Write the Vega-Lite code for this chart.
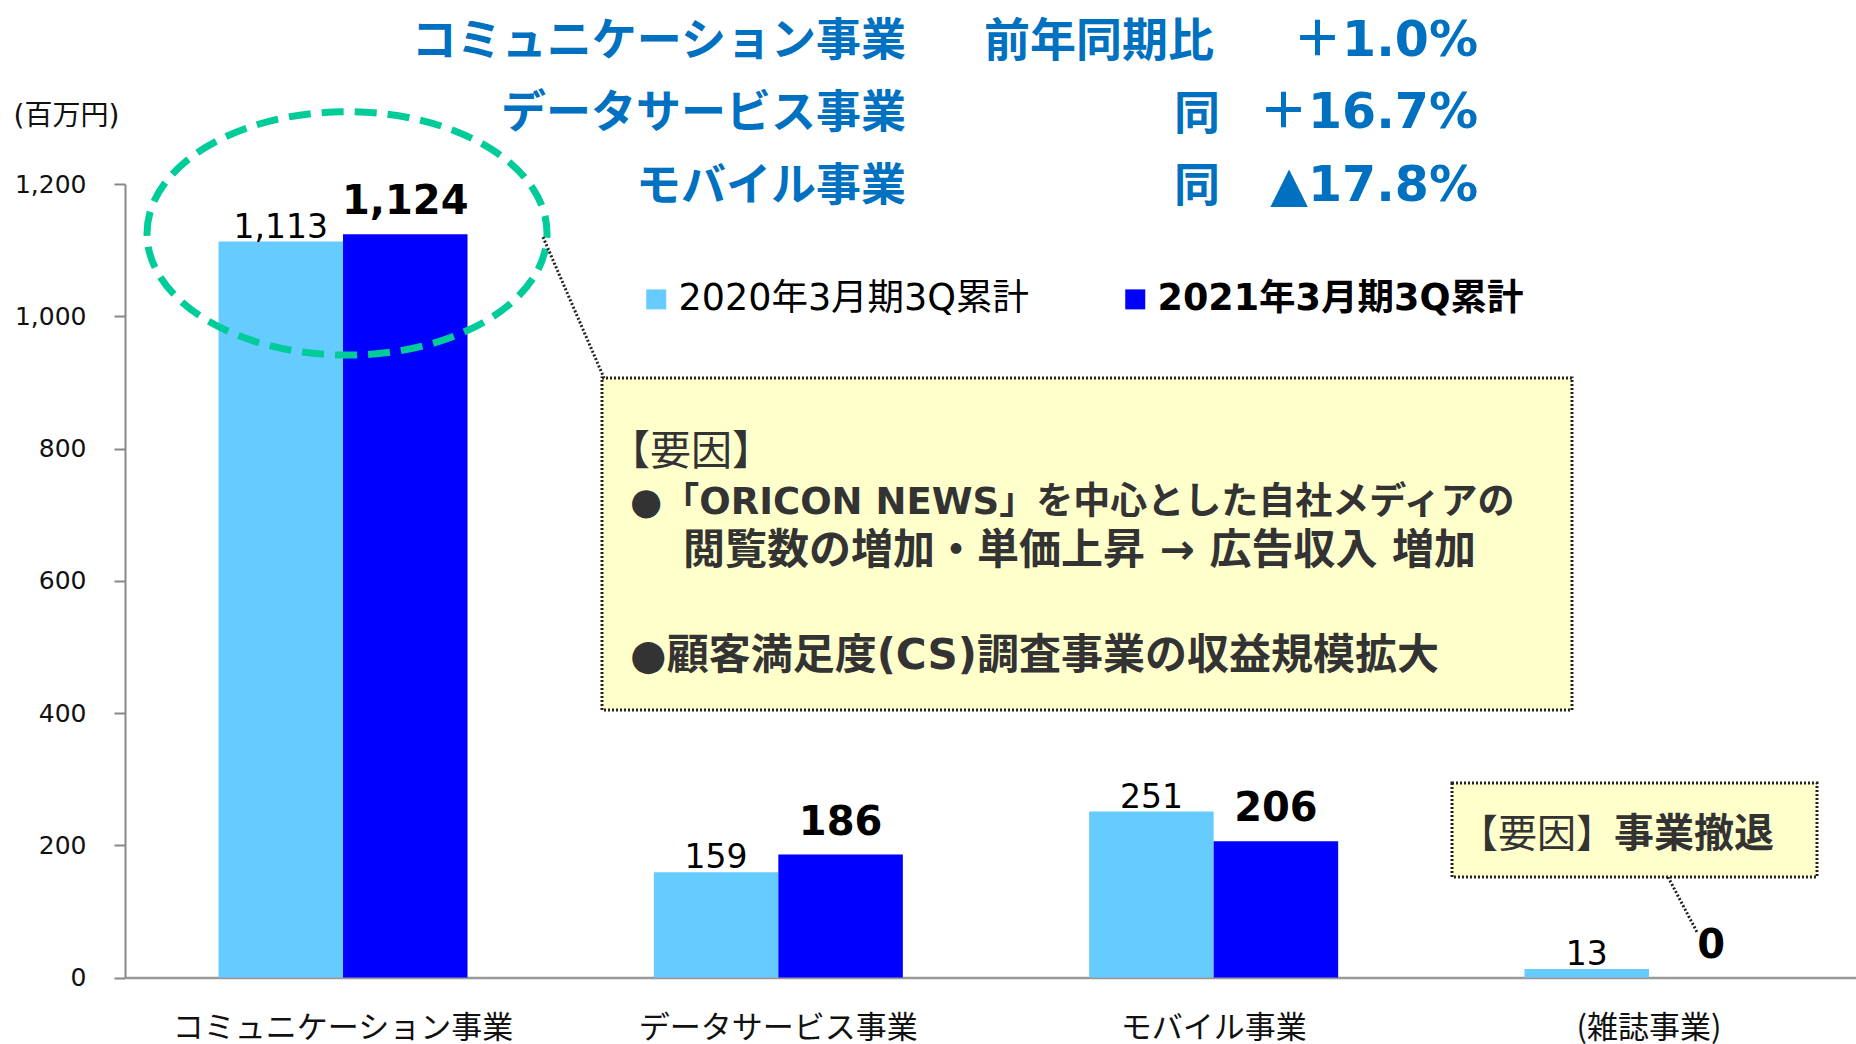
{
  "$schema": "https://vega.github.io/schema/vega-lite/v6.json",
  "width": 1731,
  "height": 793.5,
  "autosize": {"type": "none"},
  "padding": {"left": 125, "top": 184, "right": 0, "bottom": 66.5},
  "background": "#ffffff",
  "config": {"view": {"stroke": null}, "font": "DejaVu Sans", "axisY": {"format": ","}},
  "datasets": {
    "sales": [
      {"segment": "コミュニケーション事業", "period": "2020年3月期3Q累計", "value": 1113},
      {"segment": "コミュニケーション事業", "period": "2021年3月期3Q累計", "value": 1124},
      {"segment": "データサービス事業", "period": "2020年3月期3Q累計", "value": 159},
      {"segment": "データサービス事業", "period": "2021年3月期3Q累計", "value": 186},
      {"segment": "モバイル事業", "period": "2020年3月期3Q累計", "value": 251},
      {"segment": "モバイル事業", "period": "2021年3月期3Q累計", "value": 206},
      {"segment": "(雑誌事業)", "period": "2020年3月期3Q累計", "value": 13},
      {"segment": "(雑誌事業)", "period": "2021年3月期3Q累計", "value": 0}
    ]
  },
  "layer": [
    {
      "data": {"name": "sales"},
      "encoding": {
        "x": {
          "field": "segment", "type": "nominal", "sort": null,
          "scale": {"range": [0, 1742], "paddingInner": 0.428, "paddingOuter": 0.2148},
          "axis": {
            "title": null, "labelAngle": 0, "labelFont": "Noto Sans CJK JP", "labelFontSize": 31,
            "labelColor": "#111111", "labelPadding": 36, "ticks": false, "tickSize": 0,
            "domainColor": "#999999", "domainWidth": 2.5, "labelLimit": 0
          }
        },
        "xOffset": {"field": "period", "type": "nominal", "sort": null},
        "y": {
          "field": "value", "type": "quantitative",
          "scale": {"domain": [0, 1200], "nice": false},
          "axis": {
            "title": "(百万円)", "titleAngle": 0, "titleAlign": "left", "titleBaseline": "middle",
            "titleX": -112, "titleY": -68, "titleFont": "DejaVu Sans, Noto Sans CJK JP", "titleFontSize": 28,
            "titleFontWeight": "normal", "titleColor": "#111111",
            "values": [0, 200, 400, 600, 800, 1000, 1200], "format": ",",
            "labelExpr": "format(datum.value, ',')",
            "labelFont": "DejaVu Sans", "labelFontSize": 25, "labelColor": "#111111", "labelPadding": 28,
            "tickSize": 11, "tickColor": "#888888", "tickWidth": 2, "domainColor": "#888888", "domainWidth": 2,
            "grid": false
          }
        }
      },
      "layer": [
        {
          "mark": {"type": "bar"},
          "encoding": {
            "color": {
              "field": "period", "type": "nominal",
              "scale": {"domain": ["2020年3月期3Q累計", "2021年3月期3Q累計"], "range": ["#66CCFF", "#0000FF"]},
              "legend": {
                "orient": "none", "legendX": 513, "legendY": 97, "direction": "horizontal", "title": null,
                "symbolType": "square", "symbolSize": 400, "symbolStrokeWidth": 0, "symbolOpacity": 1,
                "labelFont": "DejaVu Sans, Noto Sans CJK JP", "labelFontSize": 36.5, "labelColor": "#000000",
                "labelOffset": 4, "columnPadding": 87, "labelLimit": 0,
                "labelFontWeight": {"expr": "datum.label == '2021年3月期3Q累計' ? 'bold' : 'normal'"}
              }
            }
          }
        },
        {
          "transform": [{"filter": "datum.period == '2020年3月期3Q累計'"}],
          "mark": {"type": "text", "baseline": "alphabetic", "dy": -4, "fontSize": 33, "font": "DejaVu Sans", "color": "#000000"},
          "encoding": {"text": {"field": "value", "type": "quantitative", "format": ","}}
        },
        {
          "transform": [{"filter": "datum.period == '2021年3月期3Q累計'"}],
          "mark": {"type": "text", "baseline": "alphabetic", "dy": -20, "fontSize": 40, "fontWeight": "bold", "font": "DejaVu Sans", "color": "#000000"},
          "encoding": {"text": {"field": "value", "type": "quantitative", "format": ","}}
        }
      ]
    },
    {
      "data": {"values": [{}]},
      "layer": [
        {
          "mark": {"type": "point", "shape": "M -1 0 A 1 0.6085 0 1 1 1 0 A 1 0.6085 0 1 1 -1 0 Z", "size": 160000, "filled": false, "stroke": "#00CC99", "strokeWidth": 7, "strokeDash": [22, 11], "opacity": 1},
          "encoding": {
            "x": {"datum": 0.5098, "type": "quantitative", "scale": {"domain": [0, 4], "range": [0, 1742], "nice": false, "zero": false}, "axis": null},
            "y": {"datum": 1125.3, "type": "quantitative", "scale": {"domain": [0, 1200], "nice": false}}
          }
        },
        {
          "mark": {"type": "rule", "stroke": "#222222", "strokeWidth": 3, "strokeDash": [2, 2]},
          "encoding": {
            "x": {"datum": 0.9598, "type": "quantitative", "scale": {"domain": [0, 4], "range": [0, 1742], "nice": false, "zero": false}, "axis": null},
            "y": {"datum": 1119.8, "type": "quantitative", "scale": {"domain": [0, 1200], "nice": false}},
            "x2": {"datum": 1.0999},
            "y2": {"datum": 906.6}
          }
        },
        {
          "mark": {"type": "rule", "stroke": "#222222", "strokeWidth": 3, "strokeDash": [2, 2]},
          "encoding": {
            "x": {"datum": 3.5431, "type": "quantitative", "scale": {"domain": [0, 4], "range": [0, 1742], "nice": false, "zero": false}, "axis": null},
            "y": {"datum": 152.0, "type": "quantitative", "scale": {"domain": [0, 1200], "nice": false}},
            "x2": {"datum": 3.6096},
            "y2": {"datum": 68.8}
          }
        },
        {
          "mark": {"type": "rect", "fill": "#FFFFCC", "stroke": "#222222", "strokeWidth": 3, "strokeDash": [2, 2]},
          "encoding": {
            "x": {"datum": 1.0953, "type": "quantitative", "scale": {"domain": [0, 4], "range": [0, 1742], "nice": false, "zero": false}, "axis": null},
            "x2": {"datum": 3.3226},
            "y": {"datum": 906.6, "type": "quantitative", "scale": {"domain": [0, 1200], "nice": false}},
            "y2": {"datum": 404.5}
          }
        },
        {
          "mark": {"type": "rect", "fill": "#FFFFCC", "stroke": "#222222", "strokeWidth": 3, "strokeDash": [2, 2]},
          "encoding": {
            "x": {"datum": 3.0471, "type": "quantitative", "scale": {"domain": [0, 4], "range": [0, 1742], "nice": false, "zero": false}, "axis": null},
            "x2": {"datum": 3.8852},
            "y": {"datum": 294.1, "type": "quantitative", "scale": {"domain": [0, 1200], "nice": false}},
            "y2": {"datum": 152.0}
          }
        },
        {
          "mark": {"type": "text", "text": "【要因】", "align": "left", "baseline": "alphabetic", "font": "Noto Sans CJK JP", "fontSize": 41, "fontWeight": "normal", "color": "#333333"},
          "encoding": {
            "x": {"datum": 1.1114, "type": "quantitative", "scale": {"domain": [0, 4], "range": [0, 1742], "nice": false, "zero": false}, "axis": null},
            "y": {"datum": 775.0, "type": "quantitative", "scale": {"domain": [0, 1200], "nice": false}}
          }
        },
        {
          "mark": {"type": "text", "text": "●「ORICON NEWS」を中心とした自社メディアの", "align": "left", "baseline": "alphabetic", "font": "DejaVu Sans, Noto Sans CJK JP", "fontSize": 37, "fontWeight": "bold", "color": "#333333"},
          "encoding": {
            "x": {"datum": 1.1596, "type": "quantitative", "scale": {"domain": [0, 4], "range": [0, 1742], "nice": false, "zero": false}, "axis": null},
            "y": {"datum": 700.9, "type": "quantitative", "scale": {"domain": [0, 1200], "nice": false}}
          }
        },
        {
          "mark": {"type": "text", "text": "閲覧数の増加・単価上昇 → 広告収入 増加", "align": "left", "baseline": "alphabetic", "font": "DejaVu Sans, Noto Sans CJK JP", "fontSize": 42, "fontWeight": "bold", "color": "#333333"},
          "encoding": {
            "x": {"datum": 1.2813, "type": "quantitative", "scale": {"domain": [0, 4], "range": [0, 1742], "nice": false, "zero": false}, "axis": null},
            "y": {"datum": 625.3, "type": "quantitative", "scale": {"domain": [0, 1200], "nice": false}}
          }
        },
        {
          "mark": {"type": "text", "text": "●顧客満足度(CS)調査事業の収益規模拡大", "align": "left", "baseline": "alphabetic", "font": "DejaVu Sans, Noto Sans CJK JP", "fontSize": 42, "fontWeight": "bold", "color": "#333333"},
          "encoding": {
            "x": {"datum": 1.1596, "type": "quantitative", "scale": {"domain": [0, 4], "range": [0, 1742], "nice": false, "zero": false}, "axis": null},
            "y": {"datum": 466.5, "type": "quantitative", "scale": {"domain": [0, 1200], "nice": false}}
          }
        },
        {
          "mark": {"type": "text", "text": "【要因】", "align": "left", "baseline": "alphabetic", "font": "Noto Sans CJK JP", "fontSize": 39, "fontWeight": "normal", "color": "#333333"},
          "encoding": {
            "x": {"datum": 3.0631, "type": "quantitative", "scale": {"domain": [0, 4], "range": [0, 1742], "nice": false, "zero": false}, "axis": null},
            "y": {"datum": 197.4, "type": "quantitative", "scale": {"domain": [0, 1200], "nice": false}}
          }
        },
        {
          "mark": {"type": "text", "text": "事業撤退", "align": "left", "baseline": "alphabetic", "font": "Noto Sans CJK JP", "fontSize": 40, "fontWeight": "bold", "color": "#333333"},
          "encoding": {
            "x": {"datum": 3.4191, "type": "quantitative", "scale": {"domain": [0, 4], "range": [0, 1742], "nice": false, "zero": false}, "axis": null},
            "y": {"datum": 197.4, "type": "quantitative", "scale": {"domain": [0, 1200], "nice": false}}
          }
        },
        {
          "mark": {"type": "text", "text": ["コミュニケーション事業", "データサービス事業", "モバイル事業"], "lineHeight": 72.5, "align": "right", "baseline": "alphabetic", "font": "Noto Sans CJK JP", "fontSize": 45, "fontWeight": "bold", "color": "#0070C0"},
          "encoding": {
            "x": {"datum": 1.7933, "type": "quantitative", "scale": {"domain": [0, 4], "range": [0, 1742], "nice": false, "zero": false}, "axis": null},
            "y": {"datum": 1393.6, "type": "quantitative", "scale": {"domain": [0, 1200], "nice": false}}
          }
        },
        {
          "mark": {"type": "text", "text": "前年同期比", "align": "left", "baseline": "alphabetic", "font": "Noto Sans CJK JP", "fontSize": 46, "fontWeight": "bold", "color": "#0070C0"},
          "encoding": {
            "x": {"datum": 1.9725, "type": "quantitative", "scale": {"domain": [0, 4], "range": [0, 1742], "nice": false, "zero": false}, "axis": null},
            "y": {"datum": 1393.6, "type": "quantitative", "scale": {"domain": [0, 1200], "nice": false}}
          }
        },
        {
          "mark": {"type": "text", "text": ["同", "同"], "lineHeight": 72.5, "align": "right", "baseline": "alphabetic", "font": "Noto Sans CJK JP", "fontSize": 46, "fontWeight": "bold", "color": "#0070C0"},
          "encoding": {
            "x": {"datum": 2.5143, "type": "quantitative", "scale": {"domain": [0, 4], "range": [0, 1742], "nice": false, "zero": false}, "axis": null},
            "y": {"datum": 1283.9, "type": "quantitative", "scale": {"domain": [0, 1200], "nice": false}}
          }
        },
        {
          "mark": {"type": "text", "text": ["＋1.0%", "＋16.7%", "▲17.8%"], "lineHeight": 72.5, "align": "right", "baseline": "alphabetic", "font": "DejaVu Sans, Noto Sans CJK JP", "fontSize": 49, "fontWeight": "bold", "color": "#0070C0"},
          "encoding": {
            "x": {"datum": 3.1068, "type": "quantitative", "scale": {"domain": [0, 4], "range": [0, 1742], "nice": false, "zero": false}, "axis": null},
            "y": {"datum": 1393.6, "type": "quantitative", "scale": {"domain": [0, 1200], "nice": false}}
          }
        }
      ]
    }
  ],
  "resolve": {"scale": {"x": "independent"}}
}
